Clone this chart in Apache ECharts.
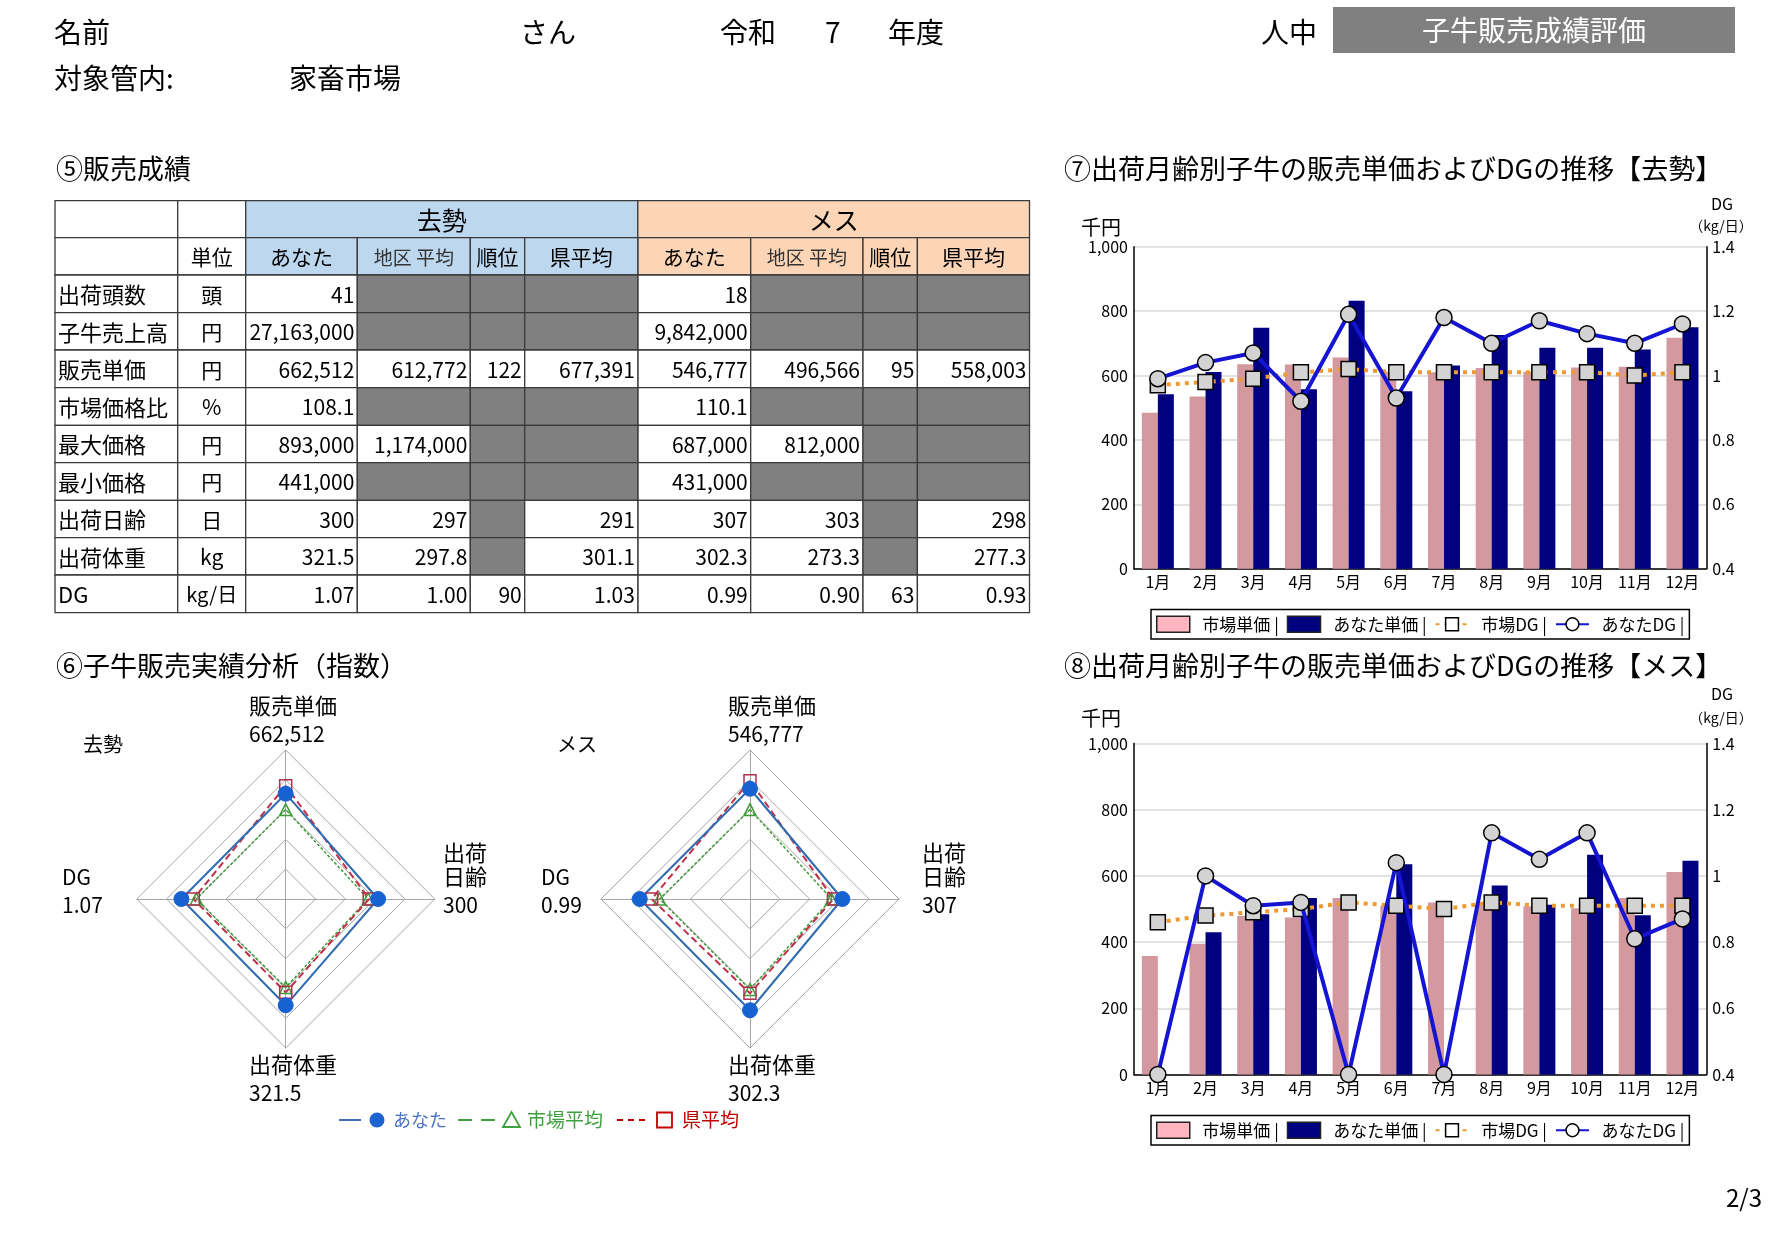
<!DOCTYPE html>
<html lang="ja">
<head>
<meta charset="utf-8">
<title>子牛販売成績評価</title>
<script src="https://cdn.jsdelivr.net/npm/echarts@6.0.0/dist/echarts.min.js"></script>
<style>
html,body{margin:0;padding:0;background:#fff;}
#main{width:1792px;height:1240px;}
</style>
</head>
<body>
<div id="main"></div>
<script>
// ================= DATA =================
const months = ['1月','2月','3月','4月','5月','6月','7月','8月','9月','10月','11月','12月'];

// ⑦ 去勢 (千円 / kg/日)
const kyoseiMarketPrice = [484, 535, 635, 634, 656, 612, 610, 623, 612, 625, 627, 717];
const kyoseiYourPrice   = [542, 611, 748, 557, 832, 551, 631, 726, 686, 686, 681, 750];
const kyoseiMarketDG    = [0.97, 0.98, 0.99, 1.01, 1.02, 1.01, 1.01, 1.01, 1.01, 1.01, 1.00, 1.01];
const kyoseiYourDG      = [0.99, 1.04, 1.07, 0.92, 1.19, 0.93, 1.18, 1.10, 1.17, 1.13, 1.10, 1.16];

// ⑧ メス
const mesuMarketPrice = [358, 395, 479, 474, 533, 510, 520, 516, 508, 502, 533, 612];
const mesuYourPrice   = [0, 430, 484, 533, 0, 635, 0, 571, 513, 664, 481, 646];
const mesuMarketDG    = [0.86, 0.88, 0.89, 0.90, 0.92, 0.91, 0.90, 0.92, 0.91, 0.91, 0.91, 0.91];
const mesuYourDG      = [0.40, 1.00, 0.91, 0.92, 0.40, 1.04, 0.40, 1.13, 1.05, 1.13, 0.81, 0.87];

const priceAxis = {min: 0, max: 1000, interval: 200};
const dgAxis = {min: 0.4, max: 1.4, interval: 0.2};

// ⑤ 販売成績 table
const rowLabels = ['出荷頭数','子牛売上高','販売単価','市場価格比','最大価格','最小価格','出荷日齢','出荷体重','DG'];
const units = ['頭','円','円','%','円','円','日','kg','kg/日'];
const groupHeads = ['去勢','メス'];
const subHeads = ['あなた','地区 平均','順位','県平均'];
const kyoseiTable = [
  ['41', null, null, null],
  ['27,163,000', null, null, null],
  ['662,512', '612,772', '122', '677,391'],
  ['108.1', null, null, null],
  ['893,000', '1,174,000', null, null],
  ['441,000', null, null, null],
  ['300', '297', null, '291'],
  ['321.5', '297.8', null, '301.1'],
  ['1.07', '1.00', '90', '1.03']
];
const mesuTable = [
  ['18', null, null, null],
  ['9,842,000', null, null, null],
  ['546,777', '496,566', '95', '558,003'],
  ['110.1', null, null, null],
  ['687,000', '812,000', null, null],
  ['431,000', null, null, null],
  ['307', '303', null, '298'],
  ['302.3', '273.3', null, '277.3'],
  ['0.99', '0.90', '63', '0.93']
];

// ⑥ radar (指数) – indicator order around the chart: top, left, bottom, right
const radarIndicators = ['販売単価','DG','出荷体重','出荷日齢'];
const radarMax = 150;
const kyoseiRadarYou    = [106, 105, 107, 93];
const kyoseiRadarMarket = [90, 90, 89, 83];
const kyoseiRadarPref   = [114, 93, 94, 84];
const mesuRadarYou      = [111, 111, 112, 93];
const mesuRadarMarket   = [90, 91, 91, 82];
const mesuRadarPref     = [119, 99, 95, 84];

// ================= STYLE / LAYOUT =================
const FONT = '"Noto Sans CJK JP", "Noto Sans", sans-serif';
const BLUE_HEAD = '#BDD7EE';
const PEACH_HEAD = '#FBD5B5';
const GREY_CELL = '#808080';
const PINK_BAR = '#D4989F';
const NAVY_BAR = '#000080';
const ORANGE = '#EE9A33';
const DGBLUE = '#1414D2';

const tableCols = [55, 177.7, 245.7, 357.3, 470.3, 524.7, 637.8, 750.7, 863, 917.4, 1029.5];
const tableRows = [200.7, 237.7, 275, 312.7, 350, 387.7, 425.3, 462.7, 500.3, 537.7, 575, 612.7];

const els = [];
function txt(text, x, y, size, o) {
  o = o || {};
  els.push({
    type: 'text', x: x, y: y, z: 20, silent: true,
    style: {
      text: text, fill: o.color || '#000',
      font: (o.weight || 'normal') + ' ' + size + 'px ' + FONT,
      align: o.align || 'left', verticalAlign: 'middle'
    }
  });
}
function cell(c0, c1, r, fill, text, align, size, color) {
  const x0 = tableCols[c0], x1 = tableCols[c1], y0 = tableRows[r], y1 = tableRows[r + 1];
  els.push({type: 'rect', z: 5, silent: true,
    shape: {x: x0, y: y0, width: x1 - x0, height: y1 - y0},
    style: {fill: fill, stroke: '#3a3a3a', lineWidth: 1.3}});
  if (text !== null && text !== undefined && text !== '') {
    const tx = align === 'left' ? x0 + 3 : align === 'right' ? x1 - 3 : (x0 + x1) / 2;
    txt(text, tx, (y0 + y1) / 2 + 1, size || 21, {align: align, color: color});
  }
}

// ---- header ----
txt('名前', 54, 32, 28);
txt('さん', 520, 32, 28);
txt('令和', 720, 32, 28);
txt('7', 825, 32, 28);
txt('年度', 888, 32, 28);
txt('人中', 1261, 32, 28);
els.push({type: 'rect', z: 5, silent: true, shape: {x: 1333, y: 7, width: 402, height: 46}, style: {fill: '#808080'}});
txt('子牛販売成績評価', 1534, 30, 28, {align: 'center', color: '#fff'});
txt('対象管内:', 54, 78, 28);
txt('家畜市場', 289, 78, 28);
txt('2/3', 1726, 1198, 24);

// ---- section titles ----
txt('⑤販売成績', 56, 169, 27);
txt('⑥子牛販売実績分析（指数）', 56, 666, 27);
txt('⑦出荷月齢別子牛の販売単価およびDGの推移【去勢】', 1064, 169, 27);
txt('⑧出荷月齢別子牛の販売単価およびDGの推移【メス】', 1064, 666, 27);

// ---- table ----
cell(0, 1, 0, '#fff');
cell(1, 2, 0, '#fff');
cell(2, 6, 0, BLUE_HEAD, groupHeads[0], 'center', 25);
cell(6, 10, 0, PEACH_HEAD, groupHeads[1], 'center', 25);
cell(0, 1, 1, '#fff');
cell(1, 2, 1, '#fff', '単位', 'center', 21);
subHeads.forEach(function (h, i) {
  const sz = i === 1 ? 19 : 21;
  cell(2 + i, 3 + i, 1, BLUE_HEAD, h, 'center', sz, i === 1 ? '#333' : '#000');
  cell(6 + i, 7 + i, 1, PEACH_HEAD, h, 'center', sz, i === 1 ? '#333' : '#000');
});
rowLabels.forEach(function (lab, i) {
  const r = i + 2;
  cell(0, 1, r, '#fff', lab, 'left', 22);
  cell(1, 2, r, '#fff', units[i], 'center', units[i].length > 2 ? 20 : 21);
  for (let k = 0; k < 4; k++) {
    const a = kyoseiTable[i][k], b = mesuTable[i][k];
    cell(2 + k, 3 + k, r, a === null ? GREY_CELL : '#fff', a, 'right', 21);
    cell(6 + k, 7 + k, r, b === null ? GREY_CELL : '#fff', b, 'right', 21);
  }
});

// ---- radar labels ----
function radarLabels(xTop, xRight, xLeft, label, xLab, tbl) {
  txt('販売単価', xTop, 706, 22);
  txt(tbl[2][0], xTop, 734, 21);
  txt('出荷', xRight, 853, 22);
  txt('日齢', xRight, 877, 22);
  txt(tbl[6][0], xRight, 905, 21);
  txt('DG', xLeft, 877, 21);
  txt(tbl[8][0], xLeft, 905, 21);
  txt('出荷体重', xTop, 1065, 22);
  txt(tbl[7][0], xTop, 1093, 21);
  txt(label, xLab, 744, 20);
}
radarLabels(249, 443, 62, groupHeads[0], 83, kyoseiTable);
radarLabels(728, 922, 541, groupHeads[1], 557, mesuTable);

// ---- radar legend ----
const LY = 1120;
els.push({type: 'line', z: 20, silent: true, shape: {x1: 339, y1: LY, x2: 361, y2: LY}, style: {stroke: '#3F6FB8', lineWidth: 2}});
els.push({type: 'circle', z: 20, silent: true, shape: {cx: 377, cy: LY, r: 7.5}, style: {fill: '#1F62D2'}});
txt('あなた', 393, LY, 18, {color: '#4A72C0'});
els.push({type: 'line', z: 20, silent: true, shape: {x1: 458, y1: LY, x2: 495, y2: LY}, style: {stroke: '#3EA03E', lineWidth: 2, lineDash: [14, 9]}});
els.push({type: 'polygon', z: 20, silent: true, shape: {points: [[511.5, LY - 8], [503, LY + 7], [520, LY + 7]]}, style: {fill: 'none', stroke: '#3EA03E', lineWidth: 1.8}});
txt('市場平均', 527, LY, 19, {color: '#3EA03E'});
els.push({type: 'line', z: 20, silent: true, shape: {x1: 617, y1: LY, x2: 646, y2: LY}, style: {stroke: '#C00000', lineWidth: 2, lineDash: [6, 5]}});
els.push({type: 'rect', z: 20, silent: true, shape: {x: 657, y: LY - 7.5, width: 15, height: 15}, style: {fill: 'none', stroke: '#C00000', lineWidth: 1.8}});
txt('県平均', 682, LY, 19, {color: '#C00000'});

// ---- combo chart axis titles ----
[[227, 204, 226], [718, 694, 718]].forEach(function (p) {
  txt('千円', 1081, p[0], 20);
  txt('DG', 1722, p[1], 16, {align: 'center'});
  txt('（kg/日）', 1721, p[2], 14, {align: 'center'});
});

// ================= CHART =================
function xAx(gi) {
  return {type: 'category', gridIndex: gi, data: months,
    axisTick: {show: false},
    axisLine: {lineStyle: {color: '#000', width: 1.5}},
    axisLabel: {color: '#000', fontSize: 16, margin: 5, fontFamily: FONT}};
}
function yLeft(gi) {
  return {type: 'value', gridIndex: gi, min: priceAxis.min, max: priceAxis.max, interval: priceAxis.interval,
    axisLine: {show: true, lineStyle: {color: '#000', width: 1.5}},
    axisTick: {show: false},
    splitLine: {show: true, lineStyle: {color: '#D9D9D9', width: 1.5}},
    axisLabel: {color: '#000', fontSize: 16, margin: 6, fontFamily: FONT}};
}
function yRight(gi) {
  return {type: 'value', gridIndex: gi, position: 'right', min: dgAxis.min, max: dgAxis.max, interval: dgAxis.interval,
    axisLine: {show: true, lineStyle: {color: '#000', width: 1.5}},
    axisTick: {show: false},
    splitLine: {show: false},
    axisLabel: {color: '#000', fontSize: 16, margin: 6, fontFamily: FONT,
      formatter: function (v) { return String(Math.round(v * 10) / 10); }}};
}
function comboSeries(xi, yl, yr, mp, yp, md, yd) {
  return [
    {type: 'bar', name: '市場単価', xAxisIndex: xi, yAxisIndex: yl, data: mp, barWidth: 16, barGap: '0%',
      itemStyle: {color: PINK_BAR}},
    {type: 'bar', name: 'あなた単価', xAxisIndex: xi, yAxisIndex: yl, data: yp, barWidth: 16, barGap: '0%',
      itemStyle: {color: NAVY_BAR}},
    {type: 'line', name: '市場DG', xAxisIndex: xi, yAxisIndex: yr, data: md, z: 3, clip: false,
      symbol: 'rect', symbolSize: 15,
      lineStyle: {color: ORANGE, width: 4, type: [4, 5]},
      itemStyle: {color: '#D3D3D3', borderColor: '#000', borderWidth: 1.5}},
    {type: 'line', name: 'あなたDG', xAxisIndex: xi, yAxisIndex: yr, data: yd, z: 4, clip: false,
      symbol: 'circle', symbolSize: 16,
      lineStyle: {color: DGBLUE, width: 4},
      itemStyle: {color: '#D3D3D3', borderColor: '#000', borderWidth: 1.5}}
  ];
}
function comboLegend(top) {
  return {left: 1151, top: top, orient: 'horizontal', padding: [6, 5], itemGap: 8,
    itemWidth: 33, itemHeight: 16, borderColor: '#000', borderWidth: 1.5, selectedMode: false,
    textStyle: {fontSize: 17, color: '#000', fontFamily: FONT},
    formatter: function (n) { return '  ' + n + ' |'; },
    data: [
      {name: '市場単価', icon: 'rect', itemStyle: {color: '#FFB6C1', borderColor: '#222', borderWidth: 1.5}},
      {name: 'あなた単価', icon: 'rect', itemStyle: {color: NAVY_BAR, borderColor: '#222', borderWidth: 1.5}},
      {name: '市場DG', itemStyle: {color: '#fff', borderColor: '#000', borderWidth: 1.5}},
      {name: 'あなたDG', itemStyle: {color: '#fff', borderColor: '#000', borderWidth: 1.5}}
    ]};
}
function radarComp(cx) {
  return {center: [cx, 899], radius: 149, startAngle: 90, splitNumber: 5, shape: 'polygon',
    indicator: radarIndicators.map(function (n) { return {name: n, min: 0, max: radarMax}; }),
    axisName: {show: false},
    splitLine: {lineStyle: {color: '#A6A6A6', width: 1}},
    splitArea: {show: false},
    axisLine: {lineStyle: {color: '#A6A6A6', width: 1}},
    axisTick: {show: false}, axisLabel: {show: false}};
}
function radarSeries(idx, you, market, pref) {
  return {type: 'radar', radarIndex: idx, silent: true, data: [
    {name: '市場平均', value: market, symbol: 'triangle', symbolSize: 12,
      lineStyle: {color: '#3E9B36', width: 1.5, type: [3, 2]},
      itemStyle: {color: 'rgba(255,255,255,0)', borderColor: '#3E9B36', borderWidth: 1.5}},
    {name: '県平均', value: pref, symbol: 'rect', symbolSize: 12,
      lineStyle: {color: '#C0304A', width: 2, type: [7, 4]},
      itemStyle: {color: 'rgba(255,255,255,0)', borderColor: '#B03050', borderWidth: 1.5}},
    {name: 'あなた', value: you, symbol: 'circle', symbolSize: 15,
      lineStyle: {color: '#2F6DB0', width: 2},
      itemStyle: {color: '#1762D2', borderColor: '#1762D2'}}
  ]};
}

const chart = echarts.init(document.getElementById('main'), null, {renderer: 'canvas'});
chart.setOption({
  backgroundColor: '#fff',
  animation: false,
  textStyle: {fontFamily: FONT},
  grid: [
    {left: 1134, top: 246.7, width: 572.3, height: 322},
    {left: 1134, top: 743.5, width: 572.3, height: 331}
  ],
  xAxis: [xAx(0), xAx(1)],
  yAxis: [yLeft(0), yRight(0), yLeft(1), yRight(1)],
  legend: [comboLegend(609.5), comboLegend(1115.5)],
  radar: [radarComp(285.7), radarComp(750)],
  series: [].concat(
    comboSeries(0, 0, 1, kyoseiMarketPrice, kyoseiYourPrice, kyoseiMarketDG, kyoseiYourDG),
    comboSeries(1, 2, 3, mesuMarketPrice, mesuYourPrice, mesuMarketDG, mesuYourDG),
    [radarSeries(0, kyoseiRadarYou, kyoseiRadarMarket, kyoseiRadarPref),
     radarSeries(1, mesuRadarYou, mesuRadarMarket, mesuRadarPref)]
  ),
  graphic: {elements: els}
});
</script>
</body>
</html>
